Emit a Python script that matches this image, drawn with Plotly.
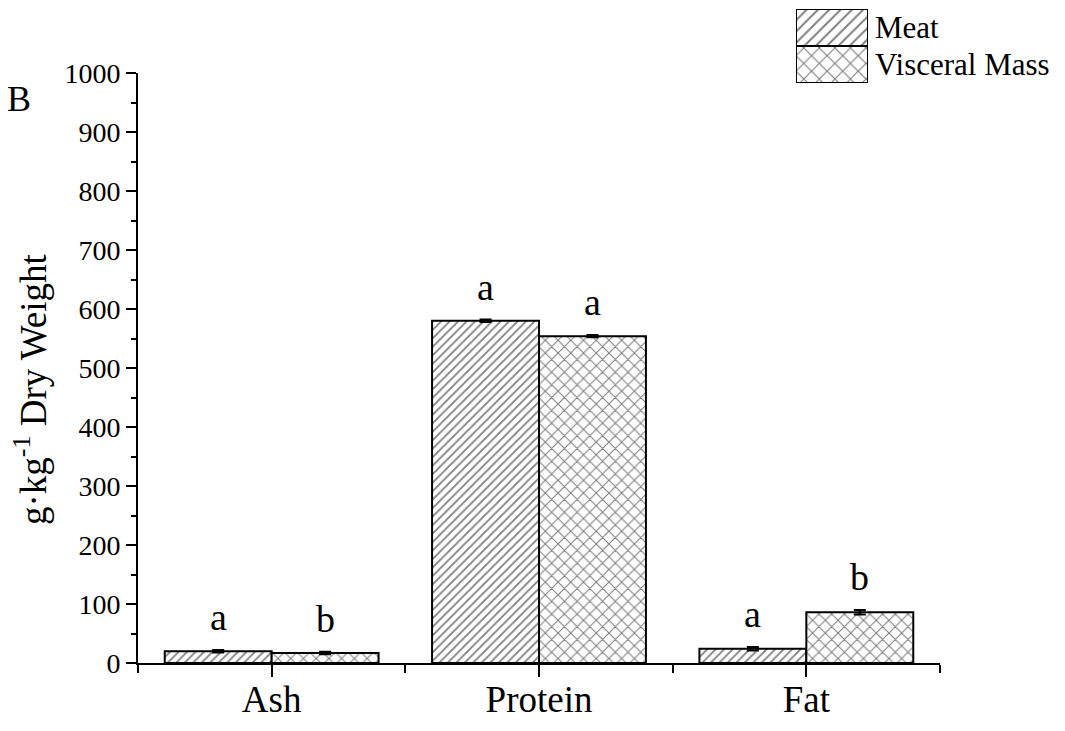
import plotly.graph_objects as go

categories = ["Ash", "Protein", "Fat"]
series_names = ["Meat", "Visceral Mass"]
meat = [20, 580, 24]
meat_err = [2, 2, 3]
visceral = [17, 554, 86]
visceral_err = [2, 2, 4]
meat_letters = ["a", "a", "a"]
visceral_letters = ["b", "a", "b"]
y_ticks = list(range(0, 1001, 100))
y_title = "g·kg<sup>-1</sup> Dry Weight"

FONT = "Liberation Serif"
xpos = list(range(len(categories)))

# page geometry (the page body has an 8px margin)
OFF = 8
W, H = 1065 - OFF, 731 - OFF
ML = 138 - OFF          # plot left edge in figure px
PB = 663 - OFF          # plot bottom in figure px
MB = H - PB
PW, PH = W - ML, PB

def fx(px_page):
    return (px_page - OFF - ML) / PW

def fy(py_page):
    return (PB - (py_page - OFF)) / PH

meat_pat = dict(shape="/", fgcolor="black", bgcolor="white", size=6, solidity=0.3)
vis_pat = dict(shape="x", fgcolor="black", bgcolor="white", size=9, solidity=0.22)

fig = go.Figure()
fig.add_trace(go.Bar(
    x=xpos, y=meat, name=series_names[0], offsetgroup="m", showlegend=False,
    marker=dict(color="white", line=dict(color="black", width=2), pattern=meat_pat),
    error_y=dict(type="data", array=meat_err, color="black", thickness=2, width=6),
))
fig.add_trace(go.Bar(
    x=xpos, y=visceral, name=series_names[1], offsetgroup="v", showlegend=False,
    marker=dict(color="white", line=dict(color="black", width=2), pattern=vis_pat),
    error_y=dict(type="data", array=visceral_err, color="black", thickness=2, width=6),
))

# legend keys drawn on a small auxiliary axis pair
fig.add_trace(go.Bar(
    x=[1], y=[series_names[0]], orientation="h", xaxis="x2", yaxis="y2", width=1,
    showlegend=False, hoverinfo="skip",
    marker=dict(color="white", line=dict(color="black", width=2),
                pattern=dict(shape="/", fgcolor="black", bgcolor="white", size=8, solidity=0.25)),
))
fig.add_trace(go.Bar(
    x=[1], y=[series_names[1]], orientation="h", xaxis="x2", yaxis="y2", width=1,
    showlegend=False, hoverinfo="skip",
    marker=dict(color="white", line=dict(color="black", width=2),
                pattern=dict(shape="x", fgcolor="black", bgcolor="white", size=11, solidity=0.2)),
))

for i in range(len(categories)):
    fig.add_annotation(x=xpos[i] - 0.2, y=meat[i] + meat_err[i], text=meat_letters[i],
                       showarrow=False, yanchor="bottom", yshift=10,
                       font=dict(family=FONT, size=38, color="black"))
    fig.add_annotation(x=xpos[i] + 0.2, y=visceral[i] + visceral_err[i], text=visceral_letters[i],
                       showarrow=False, yanchor="bottom", yshift=10,
                       font=dict(family=FONT, size=38, color="black"))

fig.add_annotation(x=fx(19), y=fy(99), xref="paper", yref="paper", text="B", showarrow=False,
                   xanchor="center", yanchor="middle", font=dict(family=FONT, size=36, color="black"))

fig.add_annotation(x=fx(30), y=fy(390), xref="paper", yref="paper", text=y_title, showarrow=False,
                   textangle=-90, xanchor="center", yanchor="middle", borderpad=0,
                   font=dict(family=FONT, size=37, color="black"))

fig.update_layout(
    width=W, height=H,
    margin=dict(l=ML, r=0, t=0, b=MB, autoexpand=False),
    paper_bgcolor="white", plot_bgcolor="white",
    barmode="group", bargap=0.2, bargroupgap=0,
    font=dict(family=FONT, color="black"),
    showlegend=False,
    xaxis=dict(domain=[0, fx(940)], range=[-0.5, 2.5], tickvals=xpos, ticktext=categories,
               showline=True, linecolor="black", linewidth=2, ticks="outside",
               ticklen=12, tickwidth=2, tickcolor="black", ticklabelstandoff=-9,
               minor=dict(tickvals=[-0.5, 0.5, 1.5, 2.5], ticks="outside", ticklen=8, tickwidth=2, tickcolor="black"),
               tickfont=dict(family=FONT, size=37, color="black"), showgrid=False, zeroline=False,
               automargin=False),
    yaxis=dict(domain=[0, fy(73)], range=[0, 1000], tickvals=y_ticks, showline=True, linecolor="black", linewidth=2,
               ticks="outside", ticklen=10, tickwidth=2, tickcolor="black",
               minor=dict(dtick=50, ticks="outside", ticklen=5, tickwidth=2, tickcolor="black"),
               tickfont=dict(family=FONT, size=28, color="black"), showgrid=False, zeroline=False,
               automargin=False),
    xaxis2=dict(domain=[fx(796), fx(868)], range=[0, 1], visible=False, fixedrange=True),
    yaxis2=dict(domain=[fy(83), fy(9)], anchor="x2", range=[1.5, -0.5], side="right",
                showline=False, showgrid=False, zeroline=False, ticks="",
                tickfont=dict(family=FONT, size=31, color="black"), ticklabelstandoff=6,
                ticklabeloverflow="allow", automargin=False, fixedrange=True),
)

fig.write_html("out.html")
